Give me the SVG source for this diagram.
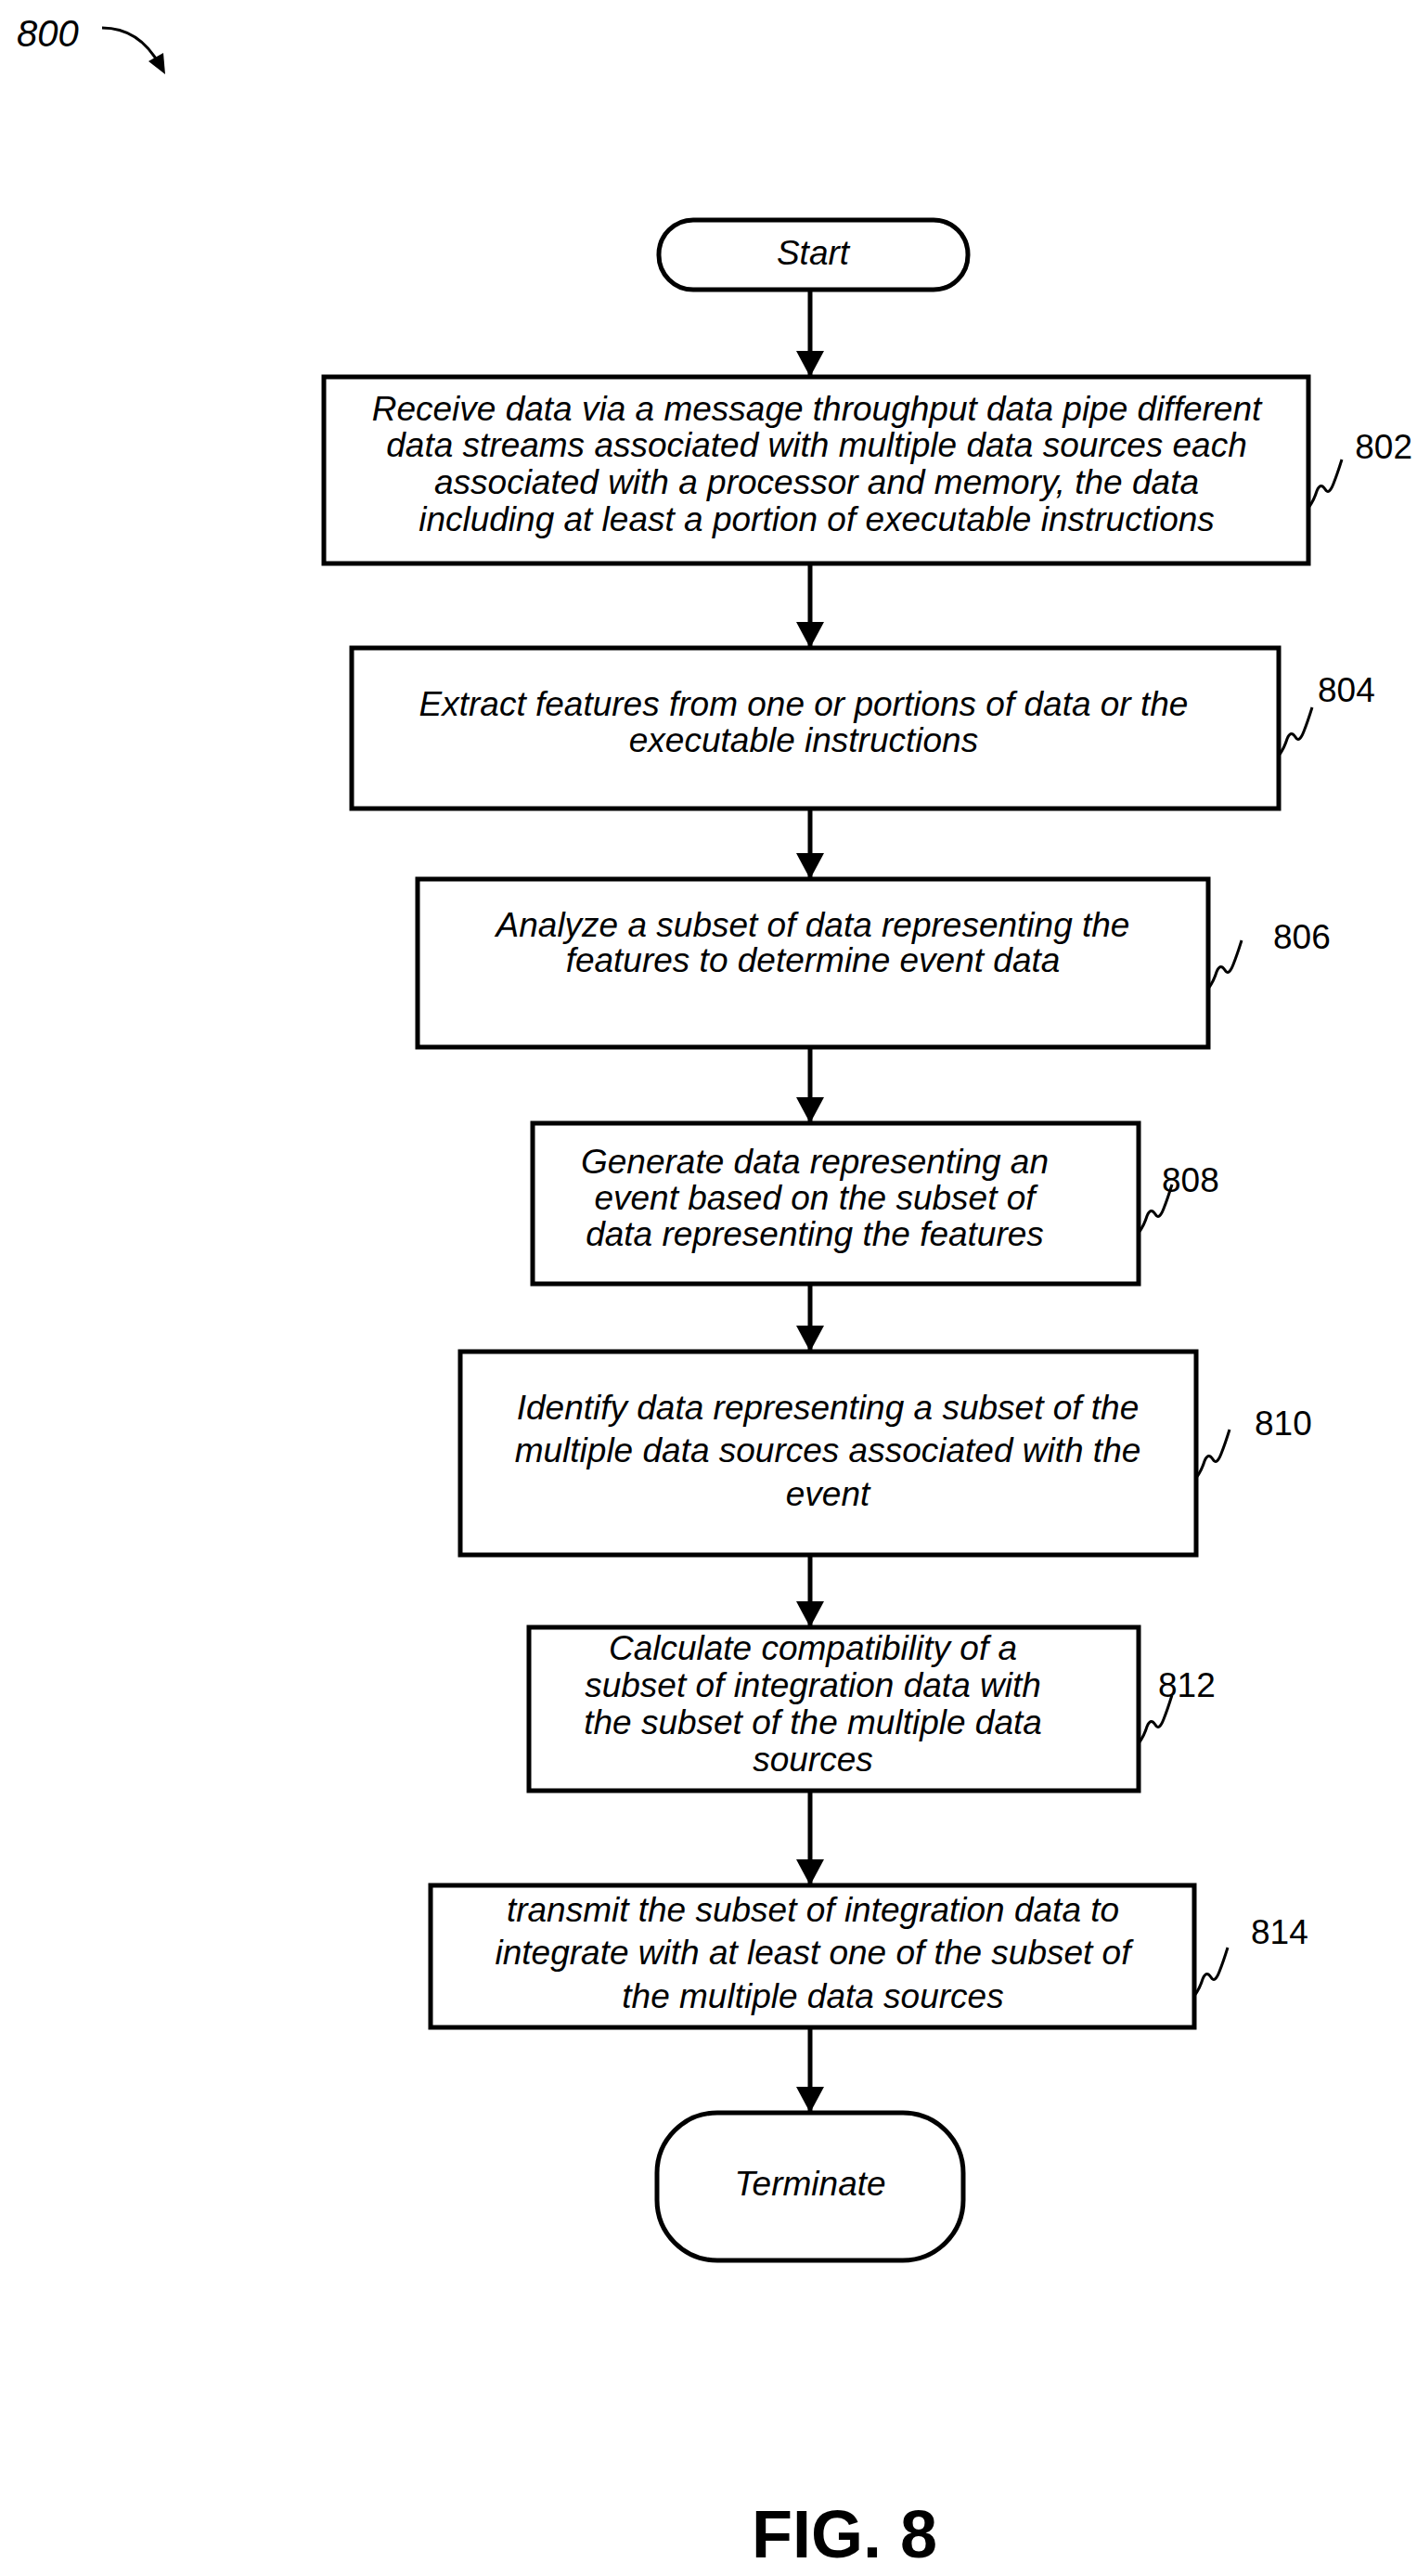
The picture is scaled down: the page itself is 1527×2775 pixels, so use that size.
<svg xmlns="http://www.w3.org/2000/svg" width="1527" height="2775" viewBox="0 0 1527 2775">
<style>
.box{fill:#fff;stroke:#000;stroke-width:5}
.t{font-family:"Liberation Sans",Arial,sans-serif;font-style:italic;font-size:37px;text-anchor:middle;fill:#000}
.n{font-family:"Liberation Sans",Arial,sans-serif;font-size:37px;fill:#000}
.c{stroke:#000;stroke-width:5;fill:none}
.sq{stroke:#000;stroke-width:3;fill:none}
</style>
<defs>
<marker id="a" markerWidth="28" markerHeight="30" refX="26" refY="15" orient="auto" markerUnits="userSpaceOnUse">
<path d="M0,0 L28,15 L0,30 z" fill="#000"/>
</marker>
<path id="sq" class="sq" d="M0 2 q6 -8 9 -18 q4 -10 9 -2 q4 7 9 -6 q4 -10 9 -26"/>
</defs>
<text x="18" y="50" style="font-family:'Liberation Sans',Arial,sans-serif;font-style:italic;font-size:40px">800</text>
<path d="M110 30 Q150 30 172 70" stroke="#000" stroke-width="3" fill="none"/>
<path d="M160 66 L178 80 L176 57 z" fill="#000"/>
<g id="connectors">
<line class="c" x1="873" y1="314" x2="873" y2="404" marker-end="url(#a)"/>
<line class="c" x1="873" y1="609" x2="873" y2="696" marker-end="url(#a)"/>
<line class="c" x1="873" y1="873" x2="873" y2="945" marker-end="url(#a)"/>
<line class="c" x1="873" y1="1130" x2="873" y2="1208" marker-end="url(#a)"/>
<line class="c" x1="873" y1="1385" x2="873" y2="1454" marker-end="url(#a)"/>
<line class="c" x1="873" y1="1677" x2="873" y2="1751" marker-end="url(#a)"/>
<line class="c" x1="873" y1="1931" x2="873" y2="2029" marker-end="url(#a)"/>
<line class="c" x1="873" y1="2186" x2="873" y2="2274" marker-end="url(#a)"/>
</g>
<g id="start"><rect class="box" x="710" y="237" width="333" height="75" rx="37"/><text class="t" x="876" y="285">Start</text></g>
<g id="n802"><rect class="box" x="349" y="406" width="1061" height="201"/>
<text class="t" x="880" y="453">Receive data via a message throughput data pipe different</text>
<text class="t" x="880" y="492">data streams associated with multiple data sources each</text>
<text class="t" x="880" y="532">associated with a processor and memory, the data</text>
<text class="t" x="880" y="572">including at least a portion of executable instructions</text>
<use href="#sq" x="1410" y="545"/><text class="n" x="1522" y="494" text-anchor="end">802</text></g>
<g id="n804"><rect class="box" x="379" y="698" width="999" height="173"/>
<text class="t" x="866" y="771">Extract features from one or portions of data or the</text>
<text class="t" x="866" y="810">executable instructions</text>
<use href="#sq" x="1378" y="812"/><text class="n" x="1420" y="756">804</text></g>
<g id="n806"><rect class="box" x="450" y="947" width="852" height="181"/>
<text class="t" x="876" y="1009">Analyze a subset of data representing the</text>
<text class="t" x="876" y="1047">features to determine event data</text>
<use href="#sq" x="1302" y="1063"/><text class="n" x="1372" y="1022">806</text></g>
<g id="n808"><rect class="box" x="574" y="1210" width="653" height="173"/>
<text class="t" x="878" y="1264">Generate data representing an</text>
<text class="t" x="878" y="1303">event based on the subset of</text>
<text class="t" x="878" y="1342">data representing the features</text>
<use href="#sq" x="1227" y="1326"/><text class="n" x="1252" y="1284">808</text></g>
<g id="n810"><rect class="box" x="496" y="1456" width="793" height="219"/>
<text class="t" x="892" y="1529">Identify data representing a subset of the</text>
<text class="t" x="892" y="1575">multiple data sources associated with the</text>
<text class="t" x="892" y="1622">event</text>
<use href="#sq" x="1289" y="1590"/><text class="n" x="1352" y="1546">810</text></g>
<g id="n812"><rect class="box" x="570" y="1753" width="657" height="176"/>
<text class="t" x="876" y="1788">Calculate compatibility of a</text>
<text class="t" x="876" y="1828">subset of integration data with</text>
<text class="t" x="876" y="1868">the subset of the multiple data</text>
<text class="t" x="876" y="1908">sources</text>
<use href="#sq" x="1227" y="1876"/><text class="n" x="1248" y="1828">812</text></g>
<g id="n814"><rect class="box" x="464" y="2031" width="823" height="153"/>
<text class="t" x="876" y="2070">transmit the subset of integration data to</text>
<text class="t" x="876" y="2116">integrate with at least one of the subset of</text>
<text class="t" x="876" y="2163">the multiple data sources</text>
<use href="#sq" x="1287" y="2148"/><text class="n" x="1348" y="2094">814</text></g>
<g id="terminate"><rect class="box" x="708" y="2276" width="330" height="159" rx="65"/><text class="t" x="873" y="2365">Terminate</text></g>
<text x="910" y="2755" style="font-family:'Liberation Sans',Arial,sans-serif;font-weight:bold;font-size:72px;text-anchor:middle">FIG. 8</text>
</svg>
